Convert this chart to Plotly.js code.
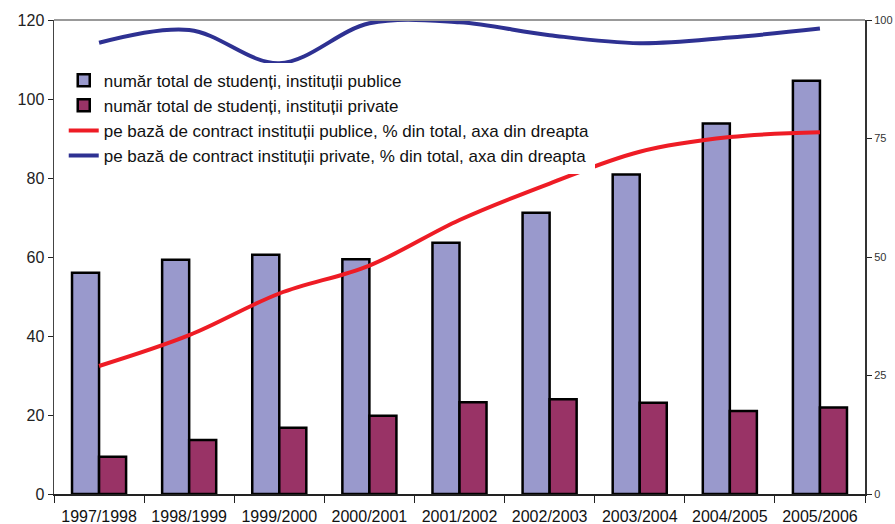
<!DOCTYPE html>
<html>
<head>
<meta charset="utf-8">
<script src="https://cdn.plot.ly/plotly-3.0.1.min.js"></script>
<style>html,body{margin:0;padding:0;background:#fff}#chart{width:895px;height:524px}</style>
</head>
<body>
<div id="chart"></div>
<script>
const years = ["1997/1998","1998/1999","1999/2000","2000/2001","2001/2002","2002/2003","2003/2004","2004/2005","2005/2006"];
const publicStudents = [56.0, 59.3, 60.6, 59.4, 63.6, 71.2, 80.9, 93.8, 104.6];
const privateStudents = [9.4, 13.7, 16.8, 19.8, 23.2, 24.0, 23.1, 21.0, 21.9];
const contractPublicPct = [27.0, 33.5, 42.3, 48.2, 57.8, 65.5, 72.2, 75.3, 76.3];
const contractPrivatePct = [95.2, 97.9, 90.9, 99.3, 99.5, 96.8, 95.1, 96.3, 98.2];
const leftTicks = [0, 20, 40, 60, 80, 100, 120];
const rightTicks = [0, 25, 50, 75, 100];
const names = [
  "număr total de studenți, instituții publice",
  "număr total de studenți, instituții private",
  "pe bază de contract instituții publice, % din total, axa din dreapta",
  "pe bază de contract instituții private, % din total, axa din dreapta"
];

const font = "Liberation Sans, Arial, sans-serif";
const traces = [
  {type:"bar", x:years, y:publicStudents, name:names[0], legendgroup:"a",
   marker:{color:"#9999cc", line:{color:"#000", width:2.5}}},
  {type:"bar", x:years, y:privateStudents, name:names[1], legendgroup:"b",
   marker:{color:"#993366", line:{color:"#000", width:2.5}}},
  {type:"scatter", mode:"lines", x:years, y:contractPublicPct, yaxis:"y2", name:names[2], legendgroup:"c",
   line:{color:"#ee1c25", width:4, shape:"spline", smoothing:1}},
  {type:"scatter", mode:"lines", x:years, y:contractPrivatePct, yaxis:"y2", name:names[3], legendgroup:"d",
   line:{color:"#2e3192", width:4, shape:"spline", smoothing:1}}
];

const layout = {
  width:895, height:524,
  margin:{l:54, r:30, t:20, b:30},
  paper_bgcolor:"#fff", plot_bgcolor:"#fff",
  font:{family:font, color:"#222"},
  barmode:"group", bargap:0.4, bargroupgap:0,
  showlegend:true,
  legend:{x:0.012, y:0.91, xanchor:"left", yanchor:"top", bgcolor:"rgba(255,255,255,1)",
          font:{size:17, color:"#111", family:font}, tracegroupgap:3, itemwidth:30, traceorder:"normal"},
  xaxis:{type:"category", tickson:"boundaries", ticks:"outside", ticklen:7, tickcolor:"#222",
         showline:true, linecolor:"#222", linewidth:1.5, showgrid:false, zeroline:false,
         ticklabelstandoff:7, tickfont:{size:16, color:"#111"}},
  yaxis:{range:[0,120], tickvals:leftTicks, ticks:"outside", ticklen:5, tickcolor:"#222",
         showline:true, linecolor:"#444", linewidth:1.5, showgrid:false, zeroline:false,
         tickfont:{size:16, color:"#222"}},
  yaxis2:{range:[0,100], tickvals:rightTicks, overlaying:"y", side:"right", ticks:"outside", ticklen:5,
          tickcolor:"#222", showline:true, linecolor:"#333", linewidth:2, showgrid:false, zeroline:false,
          tickfont:{size:11, color:"#333"}},
  shapes:[{type:"line", xref:"paper", yref:"paper", x0:0, x1:1, y0:1, y1:1, line:{color:"#999", width:2}}]
};

Plotly.newPlot("chart", traces, layout, {displayModeBar:false, staticPlot:true});
</script>
</body>
</html>
